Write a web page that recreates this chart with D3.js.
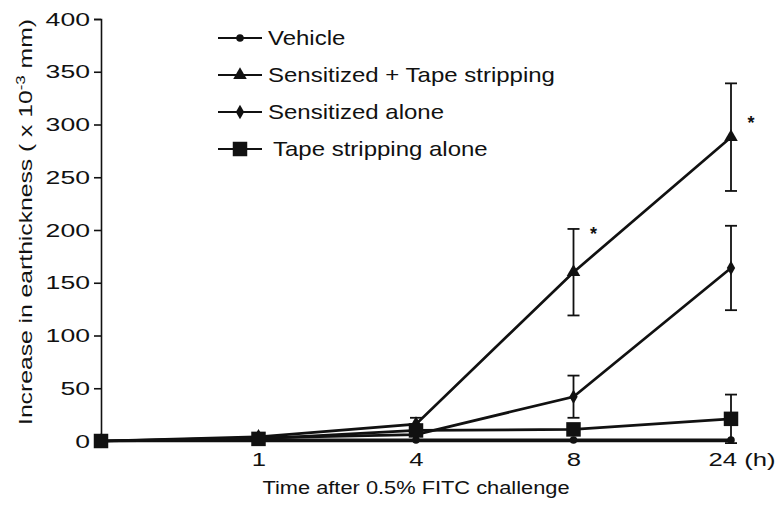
<!DOCTYPE html>
<html>
<head>
<meta charset="utf-8">
<script src="https://cdn.jsdelivr.net/npm/d3@7"></script>
<style>
  body { margin: 0; background: #fff; }
  text { font-family: "Liberation Sans", Arial, sans-serif; fill: #111; }
</style>
</head>
<body>
<svg id="chart" width="784" height="514"></svg>
<script>
const hours = ["0", "1", "4", "8", "24"];
const hourLabels = ["", "1", "4", "8", "24 (h)"];
const yTicks = [0, 50, 100, 150, 200, 250, 300, 350, 400];

const seriesNames = ["Vehicle", "Sensitized + Tape stripping", "Sensitized alone", "Tape stripping alone"];
const vehicle = [0, 1, 1, 1, 1];
const sensTape = [0, 4, 16, 160, 288];
const sensAlone = [0, 3, 6, 42, 164];
const tapeAlone = [0, 2, 10, 11, 21];

// error bar half-widths (SE)
const vehicleErr = [0, 0, 0, 0, 0];
const sensTapeErr = [0, 0, 6, 41, 51];
const sensAloneErr = [0, 0, 0, 20, 40];
const tapeAloneErr = [0, 0, 0, 0, 23];

// significance marks
const starHours = ["8", "24"];
const starValues = [200, 305];

const svg = d3.select("#chart");

const x = d3.scalePoint().domain(hours).range([101, 731]);
const y = d3.scaleLinear().domain([0, 400]).range([441, 19]);

// the scanned figure uses a wide sans face: widen glyphs horizontally
function stretch(sel, k) {
    sel.each(function () {
        const t = d3.select(this);
        const x0 = +t.attr("x") || 0;
        t.attr("x", 0).attr("transform", `translate(${x0},0) scale(${k},1)`);
    });
}

// y axis
const yAxis = svg.append("g")
    .attr("transform", "translate(101,0)")
    .call(d3.axisLeft(y).tickValues(yTicks).tickSize(7).tickPadding(4));
yAxis.select(".domain").attr("stroke", "#111").attr("stroke-width", 1.6);
yAxis.selectAll(".tick line").attr("stroke", "#111").attr("stroke-width", 1.6);
yAxis.selectAll(".tick text").style("font-size", "19px").attr("fill", "#111");
stretch(yAxis.selectAll(".tick text"), 1.4);

// x axis (labels only, baseline drawn by data)
const xAxis = svg.append("g")
    .attr("transform", "translate(0,441)")
    .call(d3.axisBottom(x).tickSize(0).tickPadding(12).tickFormat((d, i) => hourLabels[i]));
xAxis.select(".domain").attr("stroke", "#111").attr("stroke-width", 1.6);
xAxis.selectAll(".tick text").style("font-size", "19px").attr("fill", "#111");
xAxis.selectAll(".tick text").filter(d => d === "24").attr("text-anchor", "start").attr("x", -23);
stretch(xAxis.selectAll(".tick text"), 1.35);

const xt = svg.append("text")
    .attr("x", 416).attr("y", 494)
    .attr("text-anchor", "middle")
    .style("font-size", "18.5px")
    .text("Time after 0.5% FITC challenge");
stretch(xt, 1.18);

const yl = svg.append("text")
    .attr("transform", "translate(32,222) rotate(-90) scale(1.3,1)")
    .attr("text-anchor", "middle")
    .style("font-size", "19px");
yl.append("tspan").text("Increase in earthickness ( x 10");
yl.append("tspan").attr("dy", -7).style("font-size", "13px").text("-3");
yl.append("tspan").attr("dy", 7).text(" mm)");

const series = [
    { name: seriesNames[0], values: vehicle, err: vehicleErr, marker: "circle" },
    { name: seriesNames[1], values: sensTape, err: sensTapeErr, marker: "triangle" },
    { name: seriesNames[2], values: sensAlone, err: sensAloneErr, marker: "diamond" },
    { name: seriesNames[3], values: tapeAlone, err: tapeAloneErr, marker: "square" }
];

const symbolFor = {
    circle: d3.symbol().type(d3.symbolCircle).size(45),
    triangle: d3.symbol().type(d3.symbolTriangle).size(80),
    diamond: d3.symbol().type(d3.symbolDiamond).size(60),
    square: d3.symbol().type(d3.symbolSquare).size(210)
};

const line = d3.line()
    .x((d, i) => x(hours[i]))
    .y(d => y(d));

series.forEach(s => {
    const g = svg.append("g");

    // error bars
    s.values.forEach((v, i) => {
        const e = s.err[i];
        if (!e) return;
        const cx = x(hours[i]);
        g.append("line")
            .attr("x1", cx).attr("x2", cx)
            .attr("y1", y(v - e)).attr("y2", y(v + e))
            .attr("stroke", "#111").attr("stroke-width", 1.8);
        [v - e, v + e].forEach(t => {
            g.append("line")
                .attr("x1", cx - 6).attr("x2", cx + 6)
                .attr("y1", y(t)).attr("y2", y(t))
                .attr("stroke", "#111").attr("stroke-width", 1.8);
        });
    });

    g.append("path")
        .datum(s.values)
        .attr("d", line)
        .attr("fill", "none")
        .attr("stroke", "#111")
        .attr("stroke-width", 2.7);

    g.selectAll(".pt")
        .data(s.values)
        .enter()
        .append("path")
        .attr("class", "pt")
        .attr("d", symbolFor[s.marker])
        .attr("transform", (d, i) => `translate(${x(hours[i])},${y(d)})`)
        .attr("fill", "#111");
});

// stars
starHours.forEach((h, i) => {
    svg.append("text")
        .attr("x", x(h) + 20).attr("y", y(starValues[i]) + 10)
        .attr("text-anchor", "middle")
        .style("font-size", "18px")
        .style("font-weight", "bold")
        .text("*");
});

// legend
const legend = svg.append("g");
series.forEach((s, i) => {
    const ly = 38 + i * 37;
    legend.append("line")
        .attr("x1", 218).attr("x2", 262)
        .attr("y1", ly).attr("y2", ly)
        .attr("stroke", "#111").attr("stroke-width", 2.2);
    legend.append("path")
        .attr("d", symbolFor[s.marker])
        .attr("transform", `translate(240,${ly})`)
        .attr("fill", "#111");
    const t = legend.append("text")
        .attr("x", s.marker === "square" ? 273 : 268)
        .attr("y", ly)
        .attr("dy", "0.35em")
        .style("font-size", "20px")
        .text(s.name);
    stretch(t, 1.2);
});
</script>
</body>
</html>
